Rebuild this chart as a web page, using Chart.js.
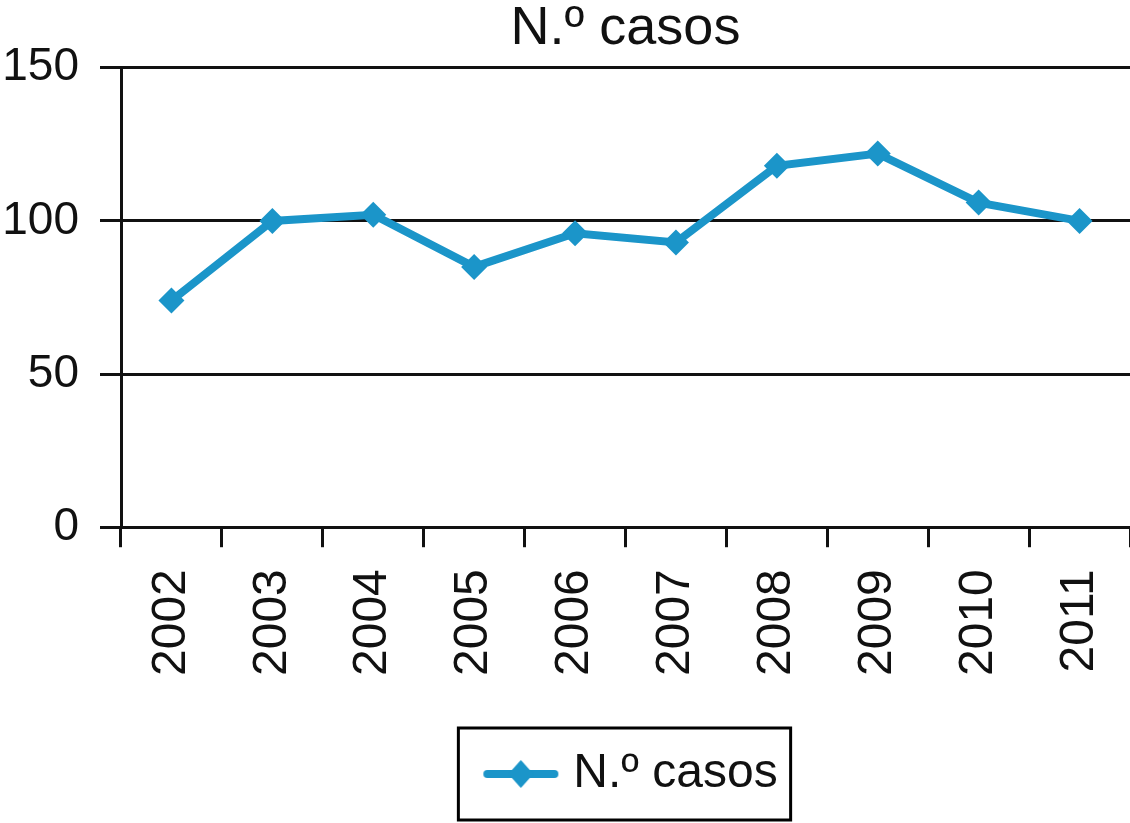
<!DOCTYPE html>
<html>
<head>
<meta charset="utf-8">
<script src="https://cdn.jsdelivr.net/npm/chart.js@4"></script>
<style>
  body { margin: 0; background: #fff; overflow: hidden; }
  #wrap { width: 1130px; height: 823px; }
</style>
</head>
<body>
<div id="wrap"><canvas id="mychart"></canvas></div>
<script>
'use strict';
const years = ['2002','2003','2004','2005','2006','2007','2008','2009','2010','2011'];
const casos = [74,100,102,85,96,93,118,122,106,100];
const yTicks = [0,50,100,150];
const seriesName = 'N.º casos';

const blue = '#1b95c9';
const font = '"Liberation Sans", Arial, Helvetica, sans-serif';

// legend symbol: line with diamond (drawn right of centre, left part empty)
let sym = document.createElement('canvas');
sym.width = 96; sym.height = 30;
let sc = sym.getContext('2d');
sc.strokeStyle = blue; sc.lineWidth = 8; sc.lineCap = 'round';
sc.beginPath(); sc.moveTo(24,15); sc.lineTo(91,15); sc.stroke();
sc.fillStyle = blue;
sc.beginPath(); sc.moveTo(57.5,1); sc.lineTo(70,15); sc.lineTo(57.5,29); sc.lineTo(45,15); sc.closePath(); sc.fill();

const legendBox = {
  id: 'legendBox',
  afterDraw(chart){
    let hb = chart.legend.legendHitBoxes[0];
    if(!hb) return;
    let c = chart.ctx;
    let cy = hb.top + hb.height/2;
    c.save();
    c.strokeStyle = '#000'; c.lineWidth = 3;
    c.strokeRect(hb.left - 15, cy - 46, hb.width + 28, 92);
    c.restore();
  }
};

let ctx = document.getElementById('mychart').getContext('2d');
let linechart = new Chart(ctx,{
  type:'line',
  data:{
    labels: years,
    datasets:[{
      label: seriesName,
      data: casos,
      borderColor: blue,
      backgroundColor: blue,
      borderWidth: 8,
      tension: 0,
      pointStyle: 'rectRot',
      pointRadius: 13,
      pointHoverRadius: 13,
      pointBorderWidth: 0
    }]
  },
  options:{
    responsive: true,
    maintainAspectRatio: false,
    animation: false,
    layout:{ autoPadding: false, padding:{ left: 2, right: 0, top: 0, bottom: 15 } },
    plugins:{
      title:{
        display: true,
        fullSize: false,
        text: seriesName,
        color: '#111',
        font:{ family: font, size: 54, weight: 'normal' },
        padding:{ top: -3, bottom: 6 }
      },
      legend:{
        position: 'bottom',
        fullSize: false,
        labels:{
          usePointStyle: true,
          pointStyle: sym,
          pointStyleWidth: 76,
          color: '#111',
          font:{ family: font, size: 48 },
          padding: 22
        }
      },
      tooltip:{ enabled: false }
    },
    scales:{
      x:{
        offset: true,
        grid:{ display: true, drawOnChartArea: false, offset: true, color: '#111', lineWidth: 3, tickLength: 20 },
        border:{ display: true, color: '#111', width: 3 },
        ticks:{ color: '#111', font:{ family: font, size: 48 }, minRotation: 90, maxRotation: 90, padding: 22 },
        afterFit(scale){
          scale.height += 30;
          scale.paddingLeft = 0;
          scale.paddingRight = 0;
        }
      },
      y:{
        min: 0, max: 150,
        afterBuildTicks(scale){ scale.ticks = yTicks.map(v => ({value: v})); },
        grid:{ color: '#111', lineWidth: 3, tickLength: 21 },
        border:{ display: true, color: '#111', width: 3 },
        ticks:{ color: '#111', font:{ family: font, size: 46 }, padding: 21 },
        afterFit(scale){ scale.width = 119; }
      }
    }
  },
  plugins: [legendBox]
});
</script>
</body>
</html>
